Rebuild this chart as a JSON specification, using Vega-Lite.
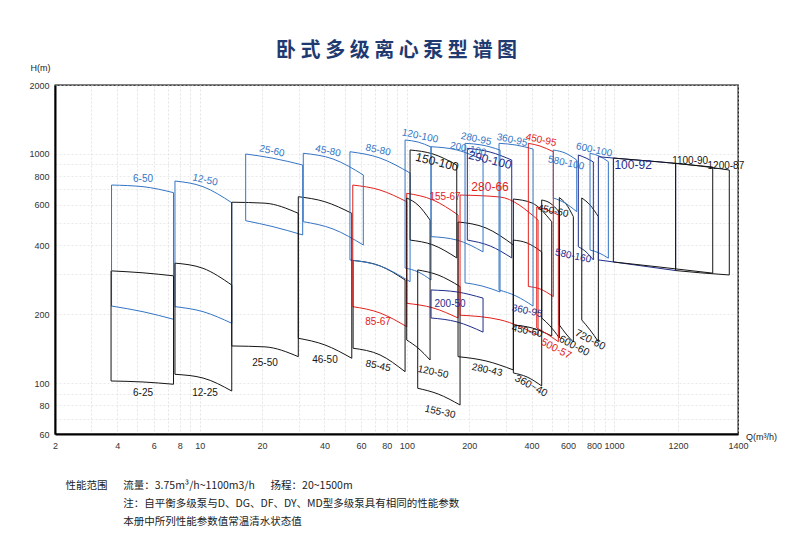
{
  "$schema": "https://vega.github.io/schema/vega-lite/v6.json",
  "width": 683,
  "height": 349,
  "autosize": {"type": "none"},
  "padding": {"left": 55, "top": 85, "right": 62, "bottom": 104},
  "background": "white",
  "title": {"text": "卧 式 多 级 离 心 泵 型 谱 图", "fontSize": 20, "font": "Noto Sans CJK SC", "fontWeight": "bold", "color": "#1f3a70", "offset": 2, "anchor": "middle"},
  "config": {"view": {"stroke": "#000", "strokeWidth": 1.3}},
  "datasets": {
    "fam": [
      {"id": "6-50", "c": "b", "q": [3.75, 5.32, 7.47], "t": [732, 720, 678], "b": [217, 205, 190]},
      {"id": "6-25", "c": "k", "q": [3.73, 5.32, 7.47], "t": [309, 303, 294], "b": [102.2, 101.2, 98.9]},
      {"id": "12-50", "c": "b", "q": [7.59, 10.37, 14.27], "t": [762, 720, 613], "b": [215.7, 205.1, 182.5]},
      {"id": "12-25", "c": "k", "q": [7.59, 10.37, 14.27], "t": [334, 317, 268], "b": [109.3, 105.3, 92.4]},
      {"id": "25-60", "c": "b", "q": [16.66, 22.58, 31.4], "t": [1000, 958, 895], "b": [511.5, 481.8, 443.2]},
      {"id": "25-50", "c": "k", "q": [14.27, 20.65, 29.9], "t": [616, 610, 551], "b": [145.3, 144, 130.5]},
      {"id": "45-80", "c": "b", "q": [31.6, 44.0, 61.6], "t": [1007, 951, 810], "b": [506.5, 470.7, 400.7]},
      {"id": "46-50", "c": "k", "q": [29.9, 40.2, 54.2], "t": [651, 619, 551], "b": [157, 146.8, 128.4]},
      {"id": "85-45", "c": "k", "q": [55.0, 74.2, 98.0], "t": [343, 325, 282], "b": [142, 132.8, 112.2]},
      {"id": "85-80", "c": "b", "q": [53.1, 74.2, 103.6], "t": [1023, 960, 826], "b": [344.8, 324.6, 277.2]},
      {"id": "85-67", "c": "r", "q": [54.8, 74.2, 99.8], "t": [732, 696, 619], "b": [215.7, 202.4, 176.4]},
      {"id": "120-100", "c": "b", "q": [98.0, 113.1, 130.8], "t": [1151, 1128, 1073], "b": [318, 306, 282]},
      {"id": "150-100", "c": "k", "q": [103.6, 133.7, 174.1], "t": [1041, 1000, 895], "b": [421, 401, 352]},
      {"id": "155-67", "c": "r", "q": [99.8, 133.7, 176.6], "t": [674, 630, 542], "b": [223, 213, 192.5]},
      {"id": "120-50", "c": "k", "q": [99.8, 113.1, 129.4], "t": [643, 599, 515], "b": [154.3, 142.4, 126.2]},
      {"id": "155-30", "c": "k", "q": [112.8, 141.4, 180.6], "t": [312, 296.5, 264], "b": [95, 89.7, 80.3]},
      {"id": "200-100", "c": "b", "q": [130.8, 174.7, 233.2], "t": [1076, 1041, 941], "b": [436, 421, 374]},
      {"id": "200-50", "c": "n", "q": [130.8, 174.7, 233.2], "t": [255, 250, 235], "b": [192.5, 185, 167]},
      {"id": "280-95", "c": "b", "q": [190.9, 230.6, 281.7], "t": [1113, 1094, 1041], "b": [274, 265.5, 250]},
      {"id": "290-100", "c": "n", "q": [195.8, 252.1, 320.8], "t": [1059, 1020, 941], "b": [421, 397, 352]},
      {"id": "280-66", "c": "r", "q": [180.6, 281.7, 429.9], "t": [662, 649, 515], "b": [198, 189, 162]},
      {"id": "280-43", "c": "k", "q": [176.6, 241.0, 326.6], "t": [505, 475.5, 401], "b": [130.5, 125, 114.2]},
      {"id": "360-95", "c": "b", "q": [278.6, 336.6, 406.6], "t": [1113, 1094, 1051], "b": [255, 240, 217]},
      {"id": "360-40", "c": "k", "q": [326.6, 380.4, 447.7], "t": [421, 409, 374], "b": [110.8, 106.4, 97.2]},
      {"id": "450-95", "c": "r", "q": [385.8, 439.6, 509.4], "t": [1113, 1083, 1023], "b": [264, 257.6, 238.5]},
      {"id": "450-60", "c": "k", "q": [326.6, 402.2, 500.4], "t": [636, 611, 506.5], "b": [179.5, 174.1, 160.7]},
      {"id": "450-60b", "c": "k", "q": [447.7, 491.0, 544.6], "t": [630, 611, 558], "b": [192.5, 177.7, 157.5]},
      {"id": "500-57", "c": "r", "q": [423.6, 475.0, 538.6], "t": [587, 570, 542], "b": [174.1, 163.9, 151.7]},
      {"id": "600-60", "c": "k", "q": [544.6, 586.9, 636.4], "t": [645, 605, 533], "b": [179.5, 163.9, 151.2]},
      {"id": "720-60", "c": "k", "q": [698.7, 766.2, 840.3], "t": [643, 599, 533], "b": [188.7, 170.7, 151.7]},
      {"id": "580-100", "c": "b", "q": [509.4, 580.2, 660.8], "t": [1041, 1010, 941], "b": [643, 611, 560]},
      {"id": "600-100", "c": "b", "q": [766.2, 846.8, 939.2], "t": [1007, 980, 926], "b": [381, 370, 351]},
      {"id": "580-160", "c": "n", "q": [672.6, 732.9, 794.8], "t": [990, 960, 923], "b": [394, 374, 345]},
      {"id": "100-92", "c": "n", "q": [840.3, 992.8, 1192], "t": [973, 960, 911], "b": [345, 338, 310]},
      {"id": "1100-90", "c": "k", "q": [992.8, 1140, 1312], "t": [960, 923, 877], "b": [338, 321, 302]},
      {"id": "1200-87", "c": "k", "q": [1192, 1271, 1369], "t": [911, 886, 851], "b": [310, 303, 296.5]}
    ],
    "lab": [
      {"t": "6-50", "c": "b", "q": 5.32, "h": 778},
      {"t": "6-25", "c": "k", "q": 5.32, "h": 90.6},
      {"t": "12-50", "c": "b", "q": 10.6, "h": 770},
      {"t": "12-25", "c": "k", "q": 10.6, "h": 90.6},
      {"t": "25-60", "c": "b", "q": 22.3, "h": 1030},
      {"t": "25-50", "c": "k", "q": 20.65, "h": 122.5},
      {"t": "45-80", "c": "b", "q": 41.6, "h": 1030},
      {"t": "46-50", "c": "k", "q": 40.2, "h": 126.2},
      {"t": "85-80", "c": "b", "q": 72.6, "h": 1041},
      {"t": "85-67", "c": "r", "q": 72.6, "h": 184.9},
      {"t": "85-45", "c": "k", "q": 72.6, "h": 118.9},
      {"t": "120-100", "c": "b", "q": 115.7, "h": 1198},
      {"t": "150-100", "c": "k", "q": 139.8, "h": 922.6},
      {"t": "155-67", "c": "r", "q": 152.8, "h": 649},
      {"t": "200-100", "c": "b", "q": 197.3, "h": 1051},
      {"t": "120-50", "c": "k", "q": 133.7, "h": 111.9},
      {"t": "155-30", "c": "k", "q": 144.6, "h": 74.9},
      {"t": "200-50", "c": "n", "q": 161.6, "h": 221.6},
      {"t": "280-95", "c": "b", "q": 215.8, "h": 1163},
      {"t": "290-100", "c": "n", "q": 252.1, "h": 941.5},
      {"t": "280-66", "c": "r", "q": 252.1, "h": 717.8},
      {"t": "280-43", "c": "k", "q": 243.8, "h": 114.2},
      {"t": "360-95", "c": "b", "q": 321.8, "h": 1151},
      {"t": "360-95", "c": "n", "q": 380.4, "h": 206.5},
      {"t": "360~40", "c": "k", "q": 397.6, "h": 97.2},
      {"t": "450-95", "c": "r", "q": 444.4, "h": 1151},
      {"t": "450-60", "c": "k", "q": 380.4, "h": 168.9},
      {"t": "450-60", "c": "k", "q": 507.6, "h": 564},
      {"t": "500-57", "c": "r", "q": 524.8, "h": 141},
      {"t": "600-60", "c": "k", "q": 641.2, "h": 145.3},
      {"t": "720-60", "c": "k", "q": 766.2, "h": 154.3},
      {"t": "580-100", "c": "b", "q": 586.9, "h": 913.5},
      {"t": "600-100", "c": "b", "q": 801, "h": 1041},
      {"t": "580-160", "c": "n", "q": 634.2, "h": 358.9},
      {"t": "100-92", "c": "n", "q": 1056, "h": 895.4},
      {"t": "1100-90", "c": "k", "q": 1238, "h": 932},
      {"t": "1200-87", "c": "k", "q": 1357, "h": 886.4}
    ]
  },
  "layer": [
    {
      "data": {"name": "fam"},
      "transform": [{"flatten": ["q", "t", "b"]}],
      "mark": {"type": "line", "interpolate": "monotone", "strokeWidth": 1},
      "encoding": {
        "x": {"field": "q", "type": "quantitative",
          "scale": {"type": "log", "domain": [2, 1000, 1200, 1400], "range": [0, 559, 623, 683], "nice": false},
          "axis": {
            "values": [2, 3, 4, 5, 6, 7, 8, 9, 10, 20, 30, 40, 50, 60, 70, 80, 90, 100, 200, 300, 400, 500, 600, 700, 800, 900, 1000, 1200, 1400],
            "labelExpr": "indexof([2,4,6,8,10,20,40,60,80,100,200,400,600,800,1000,1200,1400], datum.value) >= 0 ? '' + datum.value : ''",
            "labelOverlap": false, "labelFlush": false, "ticks": false, "labelPadding": 7,
            "labelFontSize": 9, "labelFont": "Liberation Sans", "labelColor": "#333",
            "grid": true, "gridColor": "#d4d4d4", "gridDash": [2, 2], "gridWidth": 0.6,
            "domainColor": "#000", "domainWidth": 2,
            "title": ["性能范围\u3000\u2002流量：3.75m³/h~1100m3/h\u3000\u2002扬程：20~1500m", "\u200B\u3000\u3000\u3000\u3000\u3000\u2002注：自平衡多级泵与D、DG、DF、DY、MD型多级泵具有相同的性能参数", "\u200B\u3000\u3000\u3000\u3000\u3000\u2002本册中所列性能参数值常温清水状态值"],
            "titleX": 10, "titleY": 46, "titleAnchor": "start", "titleAlign": "left", "titleBaseline": "top",
            "titleFontSize": 10.5, "titleFontWeight": "normal", "titleFont": "Noto Sans CJK SC", "titleColor": "#222", "titleLineHeight": 18
          }
        },
        "y": {"field": "t", "type": "quantitative",
          "scale": {"type": "log", "domain": [60, 2000], "nice": false},
          "axis": {
            "values": [60, 70, 80, 90, 100, 200, 300, 400, 500, 600, 700, 800, 900, 1000, 2000],
            "labelExpr": "indexof([60,80,100,200,400,600,800,1000,2000], datum.value) >= 0 ? '' + datum.value : ''",
            "ticks": false, "labelPadding": 6, "labelFontSize": 9, "labelFont": "Liberation Sans", "labelColor": "#333",
            "grid": true, "gridColor": "#dcdcdc", "gridDash": [2, 2], "gridWidth": 0.6,
            "domainColor": "#000", "domainWidth": 2,
            "title": "H(m)", "titleAngle": 0, "titleX": -25, "titleY": -18, "titleAlign": "left", "titleBaseline": "middle",
            "titleFontSize": 9, "titleFontWeight": "normal", "titleFont": "Liberation Sans", "titleColor": "#222"
          }
        },
        "detail": {"field": "id"},
        "color": {"field": "c", "type": "nominal", "scale": {"domain": ["b", "k", "r", "n"], "range": ["#3575c4", "#151515", "#e3211c", "#1f2d8a"]}, "legend": null}
      }
    },
    {
      "data": {"name": "fam"},
      "transform": [{"flatten": ["q", "t", "b"]}],
      "mark": {"type": "line", "interpolate": "monotone", "strokeWidth": 1},
      "encoding": {
        "x": {"field": "q", "type": "quantitative", "scale": {"type": "log", "domain": [2, 1000, 1200, 1400], "range": [0, 559, 623, 683], "nice": false}},
        "y": {"field": "b", "type": "quantitative", "scale": {"type": "log", "domain": [60, 2000], "nice": false}},
        "detail": {"field": "id"},
        "color": {"field": "c", "type": "nominal", "scale": {"domain": ["b", "k", "r", "n"], "range": ["#3575c4", "#151515", "#e3211c", "#1f2d8a"]}, "legend": null}
      }
    },
    {
      "data": {"name": "fam"},
      "transform": [
        {"flatten": ["q", "t", "b"]},
        {"window": [{"op": "row_number", "as": "i"}], "groupby": ["id"]},
        {"filter": "datum.i != 2"}
      ],
      "mark": {"type": "rule", "strokeWidth": 1},
      "encoding": {
        "x": {"field": "q", "type": "quantitative", "scale": {"type": "log", "domain": [2, 1000, 1200, 1400], "range": [0, 559, 623, 683], "nice": false}},
        "y": {"field": "t", "type": "quantitative", "scale": {"type": "log", "domain": [60, 2000], "nice": false}},
        "y2": {"field": "b"},
        "color": {"field": "c", "type": "nominal", "scale": {"domain": ["b", "k", "r", "n"], "range": ["#3575c4", "#151515", "#e3211c", "#1f2d8a"]}, "legend": null}
      }
    },
    {
      "data": {"name": "lab"},
      "transform": [{"filter": {"field": "t", "oneOf": ["6-50", "6-25", "12-25", "25-50", "46-50", "85-67", "155-67", "200-50", "1100-90", "1200-87"]}}],
      "mark": {"type": "text", "fontSize": 10, "font": "Liberation Sans", "angle": 0},
      "encoding": {
        "x": {"field": "q", "type": "quantitative", "scale": {"type": "log", "domain": [2, 1000, 1200, 1400], "range": [0, 559, 623, 683], "nice": false}},
        "y": {"field": "h", "type": "quantitative", "scale": {"type": "log", "domain": [60, 2000], "nice": false}},
        "text": {"field": "t"},
        "color": {"field": "c", "type": "nominal", "scale": {"domain": ["b", "k", "r", "n"], "range": ["#3575c4", "#151515", "#e3211c", "#1f2d8a"]}, "legend": null}
      }
    },
    {
      "data": {"name": "lab"},
      "transform": [{"filter": {"field": "t", "oneOf": ["280-66", "100-92"]}}],
      "mark": {"type": "text", "fontSize": 12, "font": "Liberation Sans", "angle": 0},
      "encoding": {
        "x": {"field": "q", "type": "quantitative", "scale": {"type": "log", "domain": [2, 1000, 1200, 1400], "range": [0, 559, 623, 683], "nice": false}},
        "y": {"field": "h", "type": "quantitative", "scale": {"type": "log", "domain": [60, 2000], "nice": false}},
        "text": {"field": "t"},
        "color": {"field": "c", "type": "nominal", "scale": {"domain": ["b", "k", "r", "n"], "range": ["#3575c4", "#151515", "#e3211c", "#1f2d8a"]}, "legend": null}
      }
    },
    {
      "data": {"name": "lab"},
      "transform": [{"filter": {"field": "t", "oneOf": ["12-50", "25-60", "45-80", "85-80", "85-45", "120-100", "120-50", "155-30", "200-100", "280-95", "280-43", "360-95", "450-95", "450-60", "580-100", "600-100", "580-160"]}}],
      "mark": {"type": "text", "fontSize": 10, "font": "Liberation Sans", "angle": 12},
      "encoding": {
        "x": {"field": "q", "type": "quantitative", "scale": {"type": "log", "domain": [2, 1000, 1200, 1400], "range": [0, 559, 623, 683], "nice": false}},
        "y": {"field": "h", "type": "quantitative", "scale": {"type": "log", "domain": [60, 2000], "nice": false}},
        "text": {"field": "t"},
        "color": {"field": "c", "type": "nominal", "scale": {"domain": ["b", "k", "r", "n"], "range": ["#3575c4", "#151515", "#e3211c", "#1f2d8a"]}, "legend": null}
      }
    },
    {
      "data": {"name": "lab"},
      "transform": [{"filter": {"field": "t", "oneOf": ["150-100", "290-100"]}}],
      "mark": {"type": "text", "fontSize": 12, "font": "Liberation Sans", "angle": 14},
      "encoding": {
        "x": {"field": "q", "type": "quantitative", "scale": {"type": "log", "domain": [2, 1000, 1200, 1400], "range": [0, 559, 623, 683], "nice": false}},
        "y": {"field": "h", "type": "quantitative", "scale": {"type": "log", "domain": [60, 2000], "nice": false}},
        "text": {"field": "t"},
        "color": {"field": "c", "type": "nominal", "scale": {"domain": ["b", "k", "r", "n"], "range": ["#3575c4", "#151515", "#e3211c", "#1f2d8a"]}, "legend": null}
      }
    },
    {
      "data": {"name": "lab"},
      "transform": [{"filter": {"field": "t", "oneOf": ["360~40", "500-57", "600-60", "720-60"]}}],
      "mark": {"type": "text", "fontSize": 10.5, "font": "Liberation Sans", "angle": 28},
      "encoding": {
        "x": {"field": "q", "type": "quantitative", "scale": {"type": "log", "domain": [2, 1000, 1200, 1400], "range": [0, 559, 623, 683], "nice": false}},
        "y": {"field": "h", "type": "quantitative", "scale": {"type": "log", "domain": [60, 2000], "nice": false}},
        "text": {"field": "t"},
        "color": {"field": "c", "type": "nominal", "scale": {"domain": ["b", "k", "r", "n"], "range": ["#3575c4", "#151515", "#e3211c", "#1f2d8a"]}, "legend": null}
      }
    },
    {
      "data": {"values": [{}]},
      "mark": {"type": "text", "text": "Q(m³/h)", "align": "left", "dx": 8, "dy": 3, "fontSize": 9, "font": "Liberation Sans", "color": "#222"},
      "encoding": {
        "x": {"datum": 1400, "type": "quantitative", "scale": {"type": "log", "domain": [2, 1000, 1200, 1400], "range": [0, 559, 623, 683], "nice": false}},
        "y": {"datum": 60, "type": "quantitative", "scale": {"type": "log", "domain": [60, 2000], "nice": false}}
      }
    }
  ]
}
